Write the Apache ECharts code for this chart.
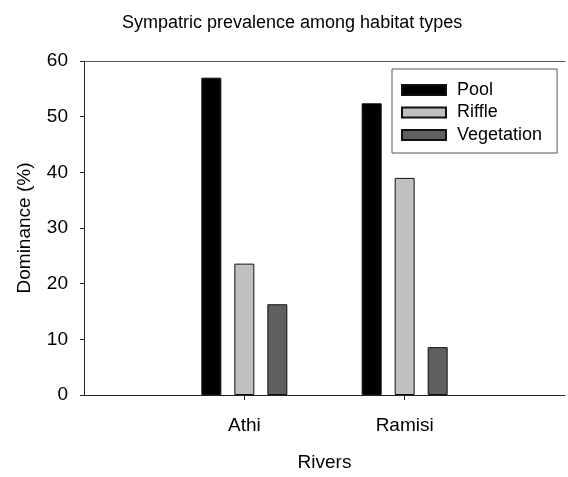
<!DOCTYPE html>
<html>
<head>
<meta charset="utf-8">
<script src="https://cdn.jsdelivr.net/npm/echarts@6/dist/echarts.min.js"></script>
<style>
  html, body { margin: 0; padding: 0; background: #fff; }
  #chart { width: 568px; height: 477px; }
</style>
</head>
<body>
<div id="chart"></div>
<script>
  // rivers on x axis, padded with blank slots so Athi/Ramisi sit at 1 and 2 of 0..3
  const rivers = ['Athi', 'Ramisi'];
  const habitats = ['Pool', 'Riffle', 'Vegetation'];
  const pool = [57.0, 52.4];
  const riffle = [23.6, 39.0];
  const vegetation = [16.3, 8.6];
  const yTicks = [0, 10, 20, 30, 40, 50, 60];

  const font = 'Liberation Sans, Arial, sans-serif';
  const colors = ['#000000', '#c0c0c0', '#606060'];
  const categories = [''].concat(rivers, ['']);
  const pad = (arr) => [null].concat(arr, [null]);
  const values = [pool, riffle, vegetation];

  const myChart = echarts.init(document.getElementById('chart'), null, { renderer: 'canvas' });
  myChart.setOption({
    backgroundColor: '#fff',
    animation: false,
    title: {
      text: 'Sympatric prevalence among habitat types',
      left: 117,
      top: 9,
      textStyle: { fontFamily: font, fontSize: 18, fontWeight: 'normal', color: '#000' },
    },
    legend: {
      data: habitats,
      orient: 'vertical',
      left: 392,
      top: 69,
      itemWidth: 44,
      itemHeight: 10,
      itemGap: 4.5,
      padding: [12, 15, 9, 9],
      backgroundColor: '#fff',
      borderColor: '#555',
      borderWidth: 1,
      icon: 'rect',
      textStyle: { fontFamily: font, fontSize: 18, color: '#000', lineHeight: 14, padding: [0, 0, 0, 6] },
    },
    grid: { left: 84, top: 61, right: -3, bottom: 76 },
    xAxis: [
      {
        type: 'category',
        data: categories,
        boundaryGap: false,
        name: 'Rivers',
        nameLocation: 'middle',
        nameGap: 58,
        nameTextStyle: { fontFamily: font, fontSize: 19, color: '#000' },
        axisLine: { lineStyle: { color: '#222', width: 1 } },
        axisTick: { length: 5, interval: (i, v) => v !== '', lineStyle: { color: '#222' } },
        axisLabel: { fontFamily: font, fontSize: 19, color: '#000', margin: 21, interval: 0 },
        splitLine: { show: false },
      },
      {
        type: 'category',
        position: 'top',
        data: categories,
        boundaryGap: false,
        axisLine: { lineStyle: { color: '#555', width: 1 } },
        axisTick: { show: false },
        axisLabel: { show: false },
      },
    ],
    yAxis: {
      type: 'value',
      min: yTicks[0],
      max: yTicks[yTicks.length - 1],
      interval: yTicks[1] - yTicks[0],
      name: 'Dominance (%)',
      nameLocation: 'middle',
      nameGap: 50,
      nameTextStyle: { fontFamily: font, fontSize: 19, color: '#000' },
      axisLine: { show: true, lineStyle: { color: '#222', width: 1 } },
      axisTick: { show: true, length: 4, lineStyle: { color: '#222' } },
      axisLabel: { fontFamily: font, fontSize: 19, color: '#000', margin: 16 },
      splitLine: { show: false },
    },
    series: habitats.map((name, i) => ({
      name: name,
      type: 'bar',
      xAxisIndex: 0,
      barWidth: 20,
      barGap: '65%',
      itemStyle: { color: colors[i], borderColor: '#111', borderWidth: 1 },
      data: pad(values[i]),
    })),
  });
</script>
</body>
</html>
